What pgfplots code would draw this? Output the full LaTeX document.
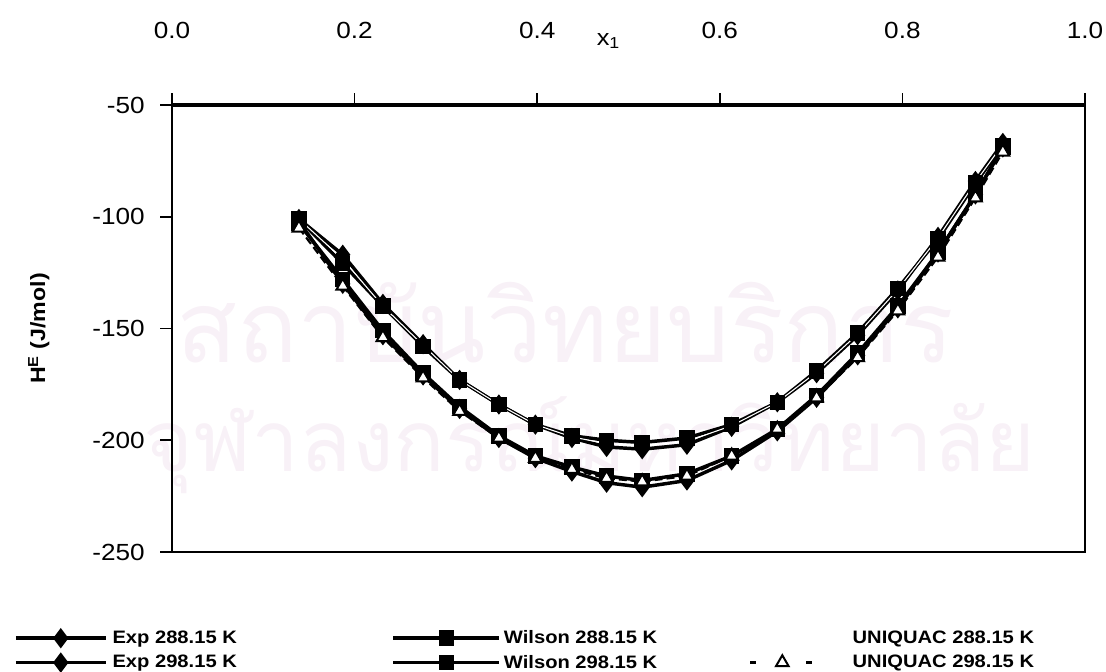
\documentclass[border=0pt]{standalone}
\usepackage{fontspec}
\setmainfont{Liberation Sans}[FakeStretch=1.12]
\newfontfamily\thaifont[Script=Thai]{Loma}
\usepackage{pgfplots}
\usepackage{pgfplotstable}
\pgfplotsset{compat=1.18}

\definecolor{wmark}{HTML}{F8F1F7}

% legend samples of different lengths
\pgfplotsset{
  legexp/.style={legend image code/.code={\draw[mark repeat=2,mark phase=2,##1] plot coordinates {(0pt,0pt) (33.75pt,0pt) (67.5pt,0pt)};}},
  legwil/.style={legend image code/.code={\draw[mark repeat=2,mark phase=2,##1] plot coordinates {(0pt,0pt) (39.75pt,0pt) (79.5pt,0pt)};}},
  legnone/.style={legend image code/.code={\path (0pt,0pt) -- (48pt,0pt);}},
  leguni/.style={legend image code/.code={
    \draw[black, line width=2pt, dash pattern=on 4pt off 17pt] (0pt,0pt) -- (48pt,0pt);
    \draw[mark repeat=2,mark phase=2,##1, draw=none] plot coordinates {(0pt,0pt) (24pt,0pt) (48pt,0pt)};}},
}

% excess enthalpy H^E (J/mol) against mole fraction x1
\pgfplotstableread{
x     exp288 wil288 uni288 exp298 wil298 uni298
0.139 -101   -101   -101   -102   -103   -105
0.187 -117   -121   -119   -130   -128   -131
0.231 -139   -140   -140   -153   -151   -154
0.275 -157   -158   -157.5 -171   -170   -172
0.315 -173   -173   -173   -186   -185   -187
0.358 -184   -184   -184   -199   -198   -199
0.398 -193   -193   -193   -208   -207   -208
0.438 -199   -198   -198.5 -214   -212   -213
0.476 -203   -200   -201.5 -219   -216   -217
0.515 -204   -201   -202.5 -221   -218   -218.5
0.564 -202   -199   -200.5 -218   -215   -216
0.613 -194   -193   -193.5 -209   -207   -207
0.663 -183   -183   -183   -196   -195   -195
0.706 -170   -169   -169.5 -181   -180   -181
0.751 -153   -152   -152.5 -162   -161   -163
0.795 -133   -132   -132.5 -141   -140   -142
0.839 -109   -110   -109.5 -116   -116   -118
0.880 -84    -85    -84.5  -90    -90    -91.5
0.910 -67    -68    -67.5  -69    -69    -71
}\hdata

\begin{document}
\begin{tikzpicture}
\useasboundingbox (0pt,0pt) rectangle (829.5pt,-503.25pt);

% faint institutional watermark behind the plot
\node[text=wmark, font=\thaifont\fontsize{75}{75}\selectfont] at (424pt,-242pt) {สถาบันวิทยบริการ};
\node[text=wmark, font=\thaifont\fontsize{64}{64}\selectfont] at (442pt,-334pt) {จุฬาลงกรณ์มหาวิทยาลัย};

\begin{axis}[
  at={(129pt,-78.75pt)}, anchor=north west,
  scale only axis, width=684.75pt, height=335.25pt,
  xmin=0, xmax=1, ymin=-250, ymax=-50,
  xtick={0,0.2,...,1.0},
  xticklabels={0.0,0.2,0.4,0.6,0.8,1.0},
  xtick pos=upper, xticklabel pos=upper,
  ytick={-250,-200,...,-50},
  ytick pos=left,
  tick align=outside,
  major tick length=9pt,
  tick style={black, line width=1.2pt},
  axis line style={line width=1.5pt},
  xticklabel style={font=\fontsize{17.5}{20}\selectfont, yshift=37pt},
  yticklabel style={font=\fontsize{17.5}{20}\selectfont, xshift=-8pt},
  /pgf/number format/assume math mode=true,
  ylabel={H\textsuperscript{E} (J/mol)},
  ylabel style={font=\bfseries\fontsize{15.5}{18}\selectfont, at={(axis description cs:-0.146,0.5)}, anchor=center},
  clip=false,
  legend columns=3,
  legend style={draw=none, fill=none, inner sep=0pt, outer sep=0pt,
    column sep=0pt, row sep=7pt,
    nodes={inner sep=0pt, anchor=west},
    font=\bfseries\fontsize{13.5}{15}\selectfont,
    at={(axis description cs:-0.173,-0.176)}, anchor=north west},
  every axis plot/.append style={line width=2.6pt},
]

\addplot[black, mark=diamond*, mark size=5.5pt, legexp]
  table[x=x, y=exp288] {\hdata};
\addlegendentry{\makebox[213pt][l]{\hspace{3.75pt}Exp 288.15 K}}

\addplot[black, mark=square*, mark size=4.5pt, legwil]
  table[x=x, y=wil288] {\hdata};
\addlegendentry{\makebox[186pt][l]{\hspace{2.25pt}Wilson 288.15 K}}

\addplot[white, line width=0.8pt, mark=none, legnone]
  table[x=x, y=uni288] {\hdata};
\addlegendentry{\hspace{27.75pt}UNIQUAC 288.15 K}

\addplot[black, mark=diamond*, mark size=5.5pt, legexp]
  table[x=x, y=exp298] {\hdata};
\addlegendentry{\makebox[213pt][l]{\hspace{3.75pt}Exp 298.15 K}}

\addplot[black, mark=square*, mark size=4.5pt, legwil]
  table[x=x, y=wil298] {\hdata};
\addlegendentry{\makebox[186pt][l]{\hspace{2.25pt}Wilson 298.15 K}}

\addplot[black, line width=1.6pt, dash pattern=on 6pt off 3pt,
  mark=triangle*, mark size=5.5pt,
  mark options={solid, fill=white, draw=black, line width=1.5pt}, leguni]
  table[x=x, y=uni298] {\hdata};
\addlegendentry{\hspace{27.75pt}UNIQUAC 298.15 K}

% heavier upper frame line
\draw[line width=3pt] (rel axis cs:0,1) -- (rel axis cs:1,1);
\node[font=\fontsize{17}{19}\selectfont] at (rel axis cs:0.478,1) [yshift=48pt] {x\textsubscript{1}};
\end{axis}
\end{tikzpicture}
\end{document}
